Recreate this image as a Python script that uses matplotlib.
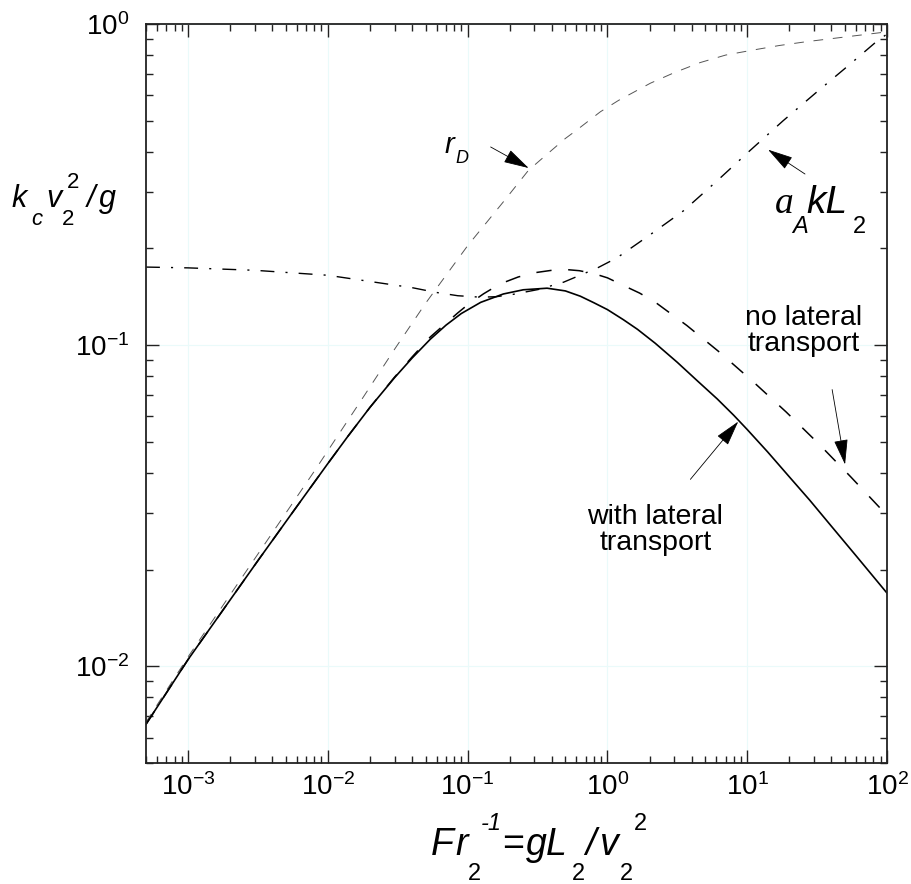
import numpy as np
import matplotlib
matplotlib.use("Agg")
import matplotlib.pyplot as plt

plt.rcParams['font.family'] = ['Liberation Sans', 'DejaVu Sans']
plt.rcParams['mathtext.fontset'] = 'custom'
plt.rcParams['mathtext.rm'] = 'Liberation Sans'
plt.rcParams['mathtext.it'] = 'Liberation Sans:italic'
plt.rcParams['lines.scale_dashes'] = False

# with lateral transport (solid)
x_with = [5e-4, 1e-3, 2e-3, 3.2e-3, 5.7e-3, 1e-2, 0.0139, 0.02, 0.03, 0.04, 0.054, 0.07, 0.09,
          0.124, 0.18, 0.25, 0.37, 0.5, 0.64, 0.8, 1.0, 1.3, 1.64, 2.2, 3.16, 4.4, 6.1, 8,
          10, 14, 20, 28, 40, 60, 100]
y_with = [0.0066, 0.0105, 0.0161, 0.0215, 0.0305, 0.0428, 0.0520, 0.064, 0.0792, 0.0911, 0.1043,
          0.1154, 0.1254, 0.1359, 0.1443, 0.1487, 0.1504, 0.1475, 0.142, 0.1355, 0.129, 0.120,
          0.112, 0.1013, 0.0884, 0.0774, 0.068, 0.0605, 0.0546, 0.0465, 0.0389, 0.0329, 0.0273,
          0.0221, 0.0169]

# no lateral transport (dashed)
x_no = [5e-4, 1e-3, 2e-3, 3.2e-3, 5.7e-3, 1e-2, 0.0139, 0.02, 0.03, 0.04, 0.054, 0.085, 0.1,
        0.13, 0.17, 0.23, 0.3, 0.4, 0.5, 0.63, 0.8, 1.0, 1.3, 1.7, 2.2, 3.7, 6.2, 11, 19, 32,
        55, 100]
y_no = [0.0066, 0.0105, 0.0161, 0.0215, 0.0305, 0.0428, 0.0520, 0.064, 0.0795, 0.0918, 0.106,
        0.126, 0.1335, 0.1445, 0.155, 0.163, 0.168, 0.171, 0.172, 0.1705, 0.167, 0.162, 0.1534,
        0.1452, 0.136, 0.1151, 0.0958, 0.077, 0.0619, 0.0496, 0.0389, 0.0295]

# a_A k L_2 (dash-dot)
x_a = [5e-4, 1e-3, 3e-3, 1e-2, 0.024, 0.04, 0.059, 0.085, 0.124, 0.16, 0.213, 0.32, 0.485,
       0.85, 1.17, 2.03, 3.5, 6.1, 10.5, 18.1, 31.6, 54.5, 85, 100]
y_a = [0.175, 0.174, 0.171, 0.165, 0.156, 0.151, 0.146, 0.1425, 0.141, 0.1415, 0.144, 0.149,
       0.157, 0.174, 0.187, 0.221, 0.262, 0.325, 0.404, 0.500, 0.615, 0.750, 0.885, 0.93]

# r_D (thin grey dashes)
x_r = [5e-4, 1e-3, 2e-3, 4e-3, 8e-3, 0.018, 0.03, 0.05, 0.1, 0.18, 0.272, 0.35, 0.5, 0.6,
       0.891, 1.2, 2.03, 3, 4.6, 7, 11.1, 17, 26.7, 40, 54.5, 100]
y_r = [0.0067, 0.0107, 0.0167, 0.0260, 0.0405, 0.0691, 0.0971, 0.135, 0.204, 0.2793, 0.350,
       0.385, 0.44, 0.4666, 0.533, 0.578, 0.654, 0.705, 0.758, 0.80, 0.830, 0.857, 0.881,
       0.900, 0.915, 0.945]

W, H = 912, 884
fig = plt.figure(figsize=(W / 100, H / 100), dpi=100)
ax = fig.add_axes([0.1601, 0.1369, 0.8125, 0.836])
ax.set_xscale('log')
ax.set_yscale('log')
ax.set_xlim(5e-4, 1e2)
ax.set_ylim(5e-3, 1.0)

ax.set_axisbelow(True)
ax.grid(True, which='major', color='#eafafa', lw=0.8)

ax.plot(x_r, y_r, color='#555555', lw=0.7, dashes=(7, 7))
ax.plot(x_a, y_a, color='k', lw=1.0, dashes=(10, 8, 1.5, 8))
ax.plot(x_no, y_no, color='k', lw=1.1, dashes=(11, 12))
ax.plot(x_with, y_with, color='k', lw=1.2)

for s in ax.spines.values():
    s.set_linewidth(1.3)
    s.set_color('#222222')
ax.tick_params(which='both', direction='in', top=True, right=True, labelsize=20, width=1.0,
               color='#222222')
ax.tick_params(which='major', length=9.5)
ax.tick_params(which='minor', length=5)
ax.tick_params(axis='x', pad=7)
ax.tick_params(axis='y', pad=12)


def put(x, y, s, size, style='italic', family='Liberation Sans'):
    # x = left edge, y = baseline, in pixels from the top-left corner
    fig.text(x / W, 1 - y / H, s, fontsize=size, style=style, family=family,
             ha='left', va='baseline')


# y axis label: k_c v_2^2 / g
put(12, 207, 'k', 22)
put(31, 225, 'c', 16)
put(46, 207, 'v', 22)
put(62, 225, '2', 16, 'normal')
put(67, 188, '2', 16, 'normal')
put(87, 207, '/', 22)
put(99, 207, 'g', 22)

# x axis label: Fr_2^-1 = gL_2/v_2^2
put(431, 855, 'F', 27)
put(455, 855, 'r', 27)
put(468, 880, '2', 17, 'normal')
put(481, 830, '-1', 17)
put(502, 855, '=', 27, 'normal')
put(526, 855, 'g', 27)
put(546, 855, 'L', 27)
put(572, 880, '2', 17, 'normal')
put(585, 855, '/', 27)
put(600, 855, 'v', 27)
put(620, 880, '2', 17, 'normal')
put(634, 830, '2', 17, 'normal')

# r_D
put(445, 153, 'r', 21)
put(455, 163, 'D', 13)

# a_A k L_2
put(775, 213, 'a', 27, 'italic', 'Liberation Serif')
put(792, 233, 'A', 17)
put(806, 213, 'kL', 28)
put(853, 233, '2', 17, 'normal')

ax.text(25.5, 0.111, 'no lateral\ntransport', fontsize=20.5, ha='center', va='center',
        multialignment='center', linespacing=1.0)
ax.text(2.2, 0.0265, 'with lateral\ntransport', fontsize=20.5, ha='center', va='center',
        multialignment='center', linespacing=1.0)

arrow = dict(arrowstyle='-|>,head_length=0.8,head_width=0.22', lw=0.6, color='k',
             shrinkA=0, shrinkB=0, mutation_scale=20)
ax.annotate('', xy=(0.273, 0.356), xytext=(0.146, 0.414), arrowprops=arrow)
ax.annotate('', xy=(14.1, 0.406), xytext=(25.9, 0.341), arrowprops=arrow)
ax.annotate('', xy=(50.1, 0.0425), xytext=(40.5, 0.0727), arrowprops=arrow)
ax.annotate('', xy=(8.62, 0.0578), xytext=(3.92, 0.0382), arrowprops=arrow)

plt.savefig('out.png', dpi=100)
